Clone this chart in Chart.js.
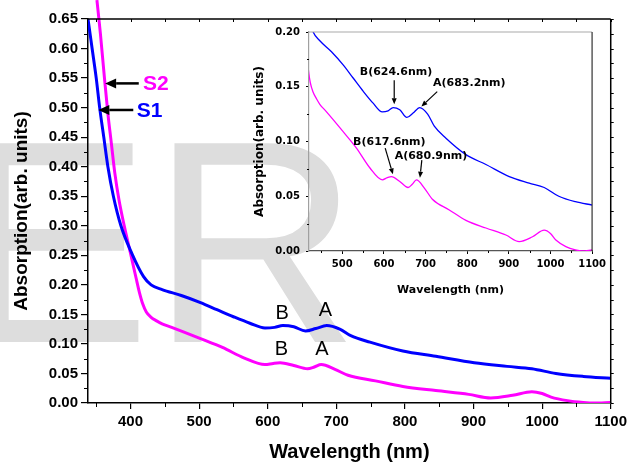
<!DOCTYPE html>
<html>
<head>
<meta charset="utf-8">
<script src="https://cdn.jsdelivr.net/npm/chart.js@4.4.1/dist/chart.umd.min.js"></script>
<style>
  body { margin: 0; background: #fff; }
  #wrap { position: relative; width: 631px; height: 464px; }
  #main { position: absolute; left: 0; top: 0; }
  #inset { position: absolute; left: 250px; top: 20px; }
</style>
</head>
<body>
<div id="wrap">
  <canvas id="main" width="631" height="464"></canvas>
  <canvas id="inset" width="360" height="290"></canvas>
</div>
<script>
// S1 (blue) spectrum, wavelength in nm / absorption
const s1Nm  = [338, 344, 350, 355, 361, 367, 375, 386, 402, 419, 430, 446, 474, 502, 526, 550, 574, 596, 610, 622, 638, 655, 670, 686, 705, 721, 749, 797, 845, 901, 949, 985, 1020, 1060, 1100];
const s1Abs = [0.650, 0.600, 0.550, 0.500, 0.450, 0.400, 0.350, 0.300, 0.253, 0.214, 0.200, 0.192, 0.182, 0.170, 0.158, 0.146, 0.135, 0.127, 0.128, 0.131, 0.129, 0.122, 0.126, 0.131, 0.125, 0.114, 0.103, 0.088, 0.079, 0.068, 0.062, 0.058, 0.050, 0.045, 0.042];

// S2 (magenta) spectrum
const s2Nm  = [351, 356, 362, 367, 372, 377, 383, 391, 400, 408, 413, 418, 423, 430, 438, 446, 460, 478, 502, 534, 566, 596, 608, 618, 638, 658, 668, 678, 698, 717, 757, 797, 845, 893, 925, 957, 985, 1000, 1013, 1037, 1060, 1076, 1100];
const s2Abs = [0.682, 0.626, 0.550, 0.490, 0.440, 0.390, 0.345, 0.299, 0.253, 0.212, 0.187, 0.167, 0.154, 0.145, 0.139, 0.134, 0.128, 0.120, 0.109, 0.094, 0.076, 0.065, 0.067, 0.068, 0.0635, 0.058, 0.061, 0.065, 0.057, 0.047, 0.0375, 0.028, 0.021, 0.0146, 0.0086, 0.013, 0.019, 0.016, 0.010, 0.004, 0.001, 0.000, 0.001];

// axes
const mainXTicks = [400, 500, 600, 700, 800, 900, 1000, 1100];
const mainXMinor = [350, 450, 550, 650, 750, 850, 950, 1050];
const mainYTicks = [0, 0.05, 0.10, 0.15, 0.20, 0.25, 0.30, 0.35, 0.40, 0.45, 0.50, 0.55, 0.60, 0.65];
const mainYMinor = [0.025, 0.075, 0.125, 0.175, 0.225, 0.275, 0.325, 0.375, 0.425, 0.475, 0.525, 0.575, 0.625];
const insetXTicks = [500, 600, 700, 800, 900, 1000, 1100];
const insetXMinor = [450, 550, 650, 750, 850, 950, 1050];
const insetYTicks = [0, 0.05, 0.10, 0.15, 0.20];
const insetYMinor = [0.025, 0.075, 0.125, 0.175];

const FONT = "'Liberation Sans', Arial, sans-serif";
const IFONT = "'DejaVu Sans', Verdana, sans-serif";
const BLUE = '#0000ff';
const PINK = '#ff00ff';

const pts = (xs, ys) => xs.map((x, i) => ({ x, y: ys[i] }));

function arrow(ctx, x1, y1, x2, y2, head, halfW, lw) {
  const a = Math.atan2(y2 - y1, x2 - x1);
  const bx = x2 - head * Math.cos(a), by = y2 - head * Math.sin(a);
  ctx.lineWidth = lw;
  ctx.beginPath();
  ctx.moveTo(x1, y1);
  ctx.lineTo(bx, by);
  ctx.stroke();
  ctx.beginPath();
  ctx.moveTo(x2, y2);
  ctx.lineTo(bx + halfW * Math.sin(a), by - halfW * Math.cos(a));
  ctx.lineTo(bx - halfW * Math.sin(a), by + halfW * Math.cos(a));
  ctx.closePath();
  ctx.fill();
}

// draws minor ticks plus the top/right frame
function frameTicks(opts) {
  return {
    id: 'frameTicks',
    afterDraw(chart) {
      const { ctx, chartArea: a, scales: { x, y } } = chart;
      ctx.save();
      ctx.lineWidth = opts.lw;
      ctx.strokeStyle = opts.topColor;
      ctx.beginPath(); ctx.moveTo(a.left, a.top); ctx.lineTo(a.right, a.top); ctx.stroke();
      ctx.strokeStyle = opts.rightColor;
      ctx.beginPath(); ctx.moveTo(a.right, a.top); ctx.lineTo(a.right, a.bottom); ctx.stroke();
      ctx.strokeStyle = '#000';
      ctx.lineWidth = 1;
      ctx.beginPath();
      opts.xMinor.forEach(v => {
        const px = Math.round(x.getPixelForValue(v)) + 0.5;
        ctx.moveTo(px, a.bottom); ctx.lineTo(px, a.bottom + opts.minorLen);
      });
      opts.yMinor.forEach(v => {
        const py = Math.round(y.getPixelForValue(v)) + 0.5;
        ctx.moveTo(a.left, py); ctx.lineTo(a.left - opts.minorLen, py);
      });
      if (opts.mirror) {
        opts.xMinor.concat(opts.xMajor).forEach(v => {
          const px = Math.round(x.getPixelForValue(v)) + 0.5;
          ctx.moveTo(px, a.top); ctx.lineTo(px, a.top + 3);
        });
        opts.yMinor.concat(opts.yMajor).forEach(v => {
          const py = Math.round(y.getPixelForValue(v)) + 0.5;
          ctx.moveTo(a.right, py); ctx.lineTo(a.right + 3, py);
        });
      }
      ctx.stroke();
      ctx.restore();
    }
  };
}

const watermark = {
  id: 'watermark',
  beforeDraw(chart) {
    const ctx = chart.ctx;
    ctx.save();
    ctx.fillStyle = '#dddddd';
    ctx.font = '289px ' + FONT;
    ctx.textBaseline = 'alphabetic';
    ctx.fillText('ER', -42, 342);
    ctx.restore();
  }
};

const mainNotes = {
  id: 'mainNotes',
  afterDatasetsDraw(chart) {
    const { ctx, scales: { x, y } } = chart;
    ctx.save();
    ctx.fillStyle = '#000';
    ctx.strokeStyle = '#000';
    arrow(ctx, x.getPixelForValue(412), y.getPixelForValue(0.541), x.getPixelForValue(363), y.getPixelForValue(0.541), 11, 5, 2.5);
    arrow(ctx, x.getPixelForValue(404), y.getPixelForValue(0.496), x.getPixelForValue(353), y.getPixelForValue(0.496), 11, 5, 2.5);
    ctx.font = 'bold 21px ' + FONT;
    ctx.textBaseline = 'middle';
    ctx.textAlign = 'left';
    ctx.fillStyle = PINK;
    ctx.fillText('S2', x.getPixelForValue(418), y.getPixelForValue(0.541) + 1);
    ctx.fillStyle = BLUE;
    ctx.fillText('S1', x.getPixelForValue(409), y.getPixelForValue(0.496) + 1);
    ctx.fillStyle = '#000';
    ctx.font = '20px ' + FONT;
    ctx.textAlign = 'center';
    ctx.fillText('B', x.getPixelForValue(621), y.getPixelForValue(0.152));
    ctx.fillText('A', x.getPixelForValue(684), y.getPixelForValue(0.157));
    ctx.fillText('B', x.getPixelForValue(620), y.getPixelForValue(0.091));
    ctx.fillText('A', x.getPixelForValue(679), y.getPixelForValue(0.090));
    ctx.restore();
  }
};

const insetNotes = {
  id: 'insetNotes',
  afterDatasetsDraw(chart) {
    const { ctx, scales: { x, y } } = chart;
    const X = v => x.getPixelForValue(v), Y = v => y.getPixelForValue(v);
    ctx.save();
    ctx.fillStyle = '#000';
    ctx.strokeStyle = '#000';
    ctx.font = 'bold 11px ' + IFONT;
    ctx.textAlign = 'center';
    ctx.textBaseline = 'middle';
    ctx.fillText('B(624.6nm)', X(629), Y(0.1635));
    ctx.fillText('A(683.2nm)', X(805), Y(0.153));
    ctx.fillText('B(617.6nm)', X(613), Y(0.0995));
    ctx.fillText('A(680.9nm)', X(713), Y(0.0868));
    arrow(ctx, X(624.7), Y(0.156), X(624.7), Y(0.134), 6, 2.5, 1.2);
    arrow(ctx, X(728), Y(0.1455), X(690), Y(0.132), 6, 2.5, 1.2);
    arrow(ctx, X(603), Y(0.094), X(621.6), Y(0.070), 6, 2.5, 1.2);
    arrow(ctx, X(691), Y(0.083), X(686.5), Y(0.067), 6, 2.5, 1.2);
    ctx.restore();
  }
};

new Chart(document.getElementById('main'), {
  type: 'line',
  data: {
    datasets: [
      { label: 'S1', data: pts(s1Nm, s1Abs), borderColor: BLUE, borderWidth: 3, pointRadius: 0, cubicInterpolationMode: 'monotone' },
      { label: 'S2', data: pts(s2Nm, s2Abs), borderColor: PINK, borderWidth: 3, pointRadius: 0, cubicInterpolationMode: 'monotone',
        clip: { left: 0, top: false, right: 0, bottom: 0 } }
    ]
  },
  options: {
    responsive: false,
    animation: false,
    layout: { padding: { top: 19, right: 18, left: 0, bottom: 0 } },
    plugins: { legend: { display: false }, tooltip: { enabled: false } },
    scales: {
      x: {
        type: 'linear', min: 338, max: 1100,
        afterBuildTicks: s => { s.ticks = mainXTicks.map(v => ({ value: v })); },
        afterFit: s => { s.height = 61; },
        grid: { drawOnChartArea: false, tickLength: 6, color: '#000', lineWidth: 1.2 },
        border: { color: '#000', width: 1.5 },
        ticks: { color: '#000', font: { family: FONT, size: 15, weight: 'bold' }, padding: 4, maxRotation: 0, autoSkip: false, callback: v => String(v) },
        title: { display: true, text: 'Wavelength (nm)', color: '#000', font: { family: FONT, size: 20, weight: 'bold' }, padding: { top: 0, bottom: 0 } }
      },
      y: {
        min: 0, max: 0.65,
        afterBuildTicks: s => { s.ticks = mainYTicks.map(v => ({ value: v })); },
        afterFit: s => { s.width = 88; },
        grid: { drawOnChartArea: false, tickLength: 7, color: '#000', lineWidth: 1.2 },
        border: { color: '#000', width: 1.5 },
        ticks: { color: '#000', font: { family: FONT, size: 15, weight: 'bold' }, padding: 3, callback: v => v.toFixed(2) },
        title: { display: true, text: 'Absorption(arb. units)', color: '#000', font: { family: FONT, size: 19, weight: 'bold' }, padding: { top: 10, bottom: 0 } }
      }
    }
  },
  plugins: [watermark, mainNotes, frameTicks({ lw: 1.5, topColor: '#000', rightColor: '#000', xMinor: mainXMinor, yMinor: mainYMinor, xMajor: mainXTicks, yMajor: mainYTicks, minorLen: 4, mirror: true })]
});

new Chart(document.getElementById('inset'), {
  type: 'line',
  data: {
    datasets: [
      { label: 'S1', data: pts(s1Nm, s1Abs), borderColor: BLUE, borderWidth: 1.3, pointRadius: 0, cubicInterpolationMode: 'monotone' },
      { label: 'S2', data: pts(s2Nm, s2Abs), borderColor: PINK, borderWidth: 1.3, pointRadius: 0, cubicInterpolationMode: 'monotone' }
    ]
  },
  options: {
    responsive: false,
    animation: false,
    layout: { padding: { top: 12, right: 17, left: 0, bottom: 0 } },
    plugins: { legend: { display: false }, tooltip: { enabled: false } },
    scales: {
      x: {
        type: 'linear', min: 420, max: 1100,
        afterBuildTicks: s => { s.ticks = insetXTicks.map(v => ({ value: v })); },
        afterFit: s => { s.height = 59; },
        grid: { drawOnChartArea: false, tickLength: 3, color: '#000', lineWidth: 1 },
        border: { color: '#555', width: 1.2 },
        ticks: { color: '#000', font: { family: IFONT, size: 10, weight: 'bold' }, padding: 4, maxRotation: 0, autoSkip: false, callback: v => String(v) },
        title: { display: true, text: 'Wavelength (nm)', color: '#000', font: { family: IFONT, size: 11, weight: 'bold' }, padding: { top: 0, bottom: 13 } }
      },
      y: {
        min: 0, max: 0.2,
        afterBuildTicks: s => { s.ticks = insetYTicks.map(v => ({ value: v })); },
        afterFit: s => { s.width = 59; },
        grid: { drawOnChartArea: false, tickLength: 3, color: '#000', lineWidth: 1 },
        border: { color: '#a0a0a0', width: 1.2 },
        ticks: { color: '#000', font: { family: IFONT, size: 10, weight: 'bold' }, padding: 6, callback: v => v.toFixed(2) },
        title: { display: true, text: 'Absorption(arb. units)', color: '#000', font: { family: IFONT, size: 12, weight: 'bold' }, padding: { top: 3, bottom: 0 } }
      }
    }
  },
  plugins: [insetNotes, frameTicks({ lw: 1.2, topColor: '#aaaaaa', rightColor: '#333333', xMinor: insetXMinor, yMinor: insetYMinor, xMajor: insetXTicks, yMajor: insetYTicks, minorLen: 2, mirror: false })]
});
</script>
</body>
</html>
